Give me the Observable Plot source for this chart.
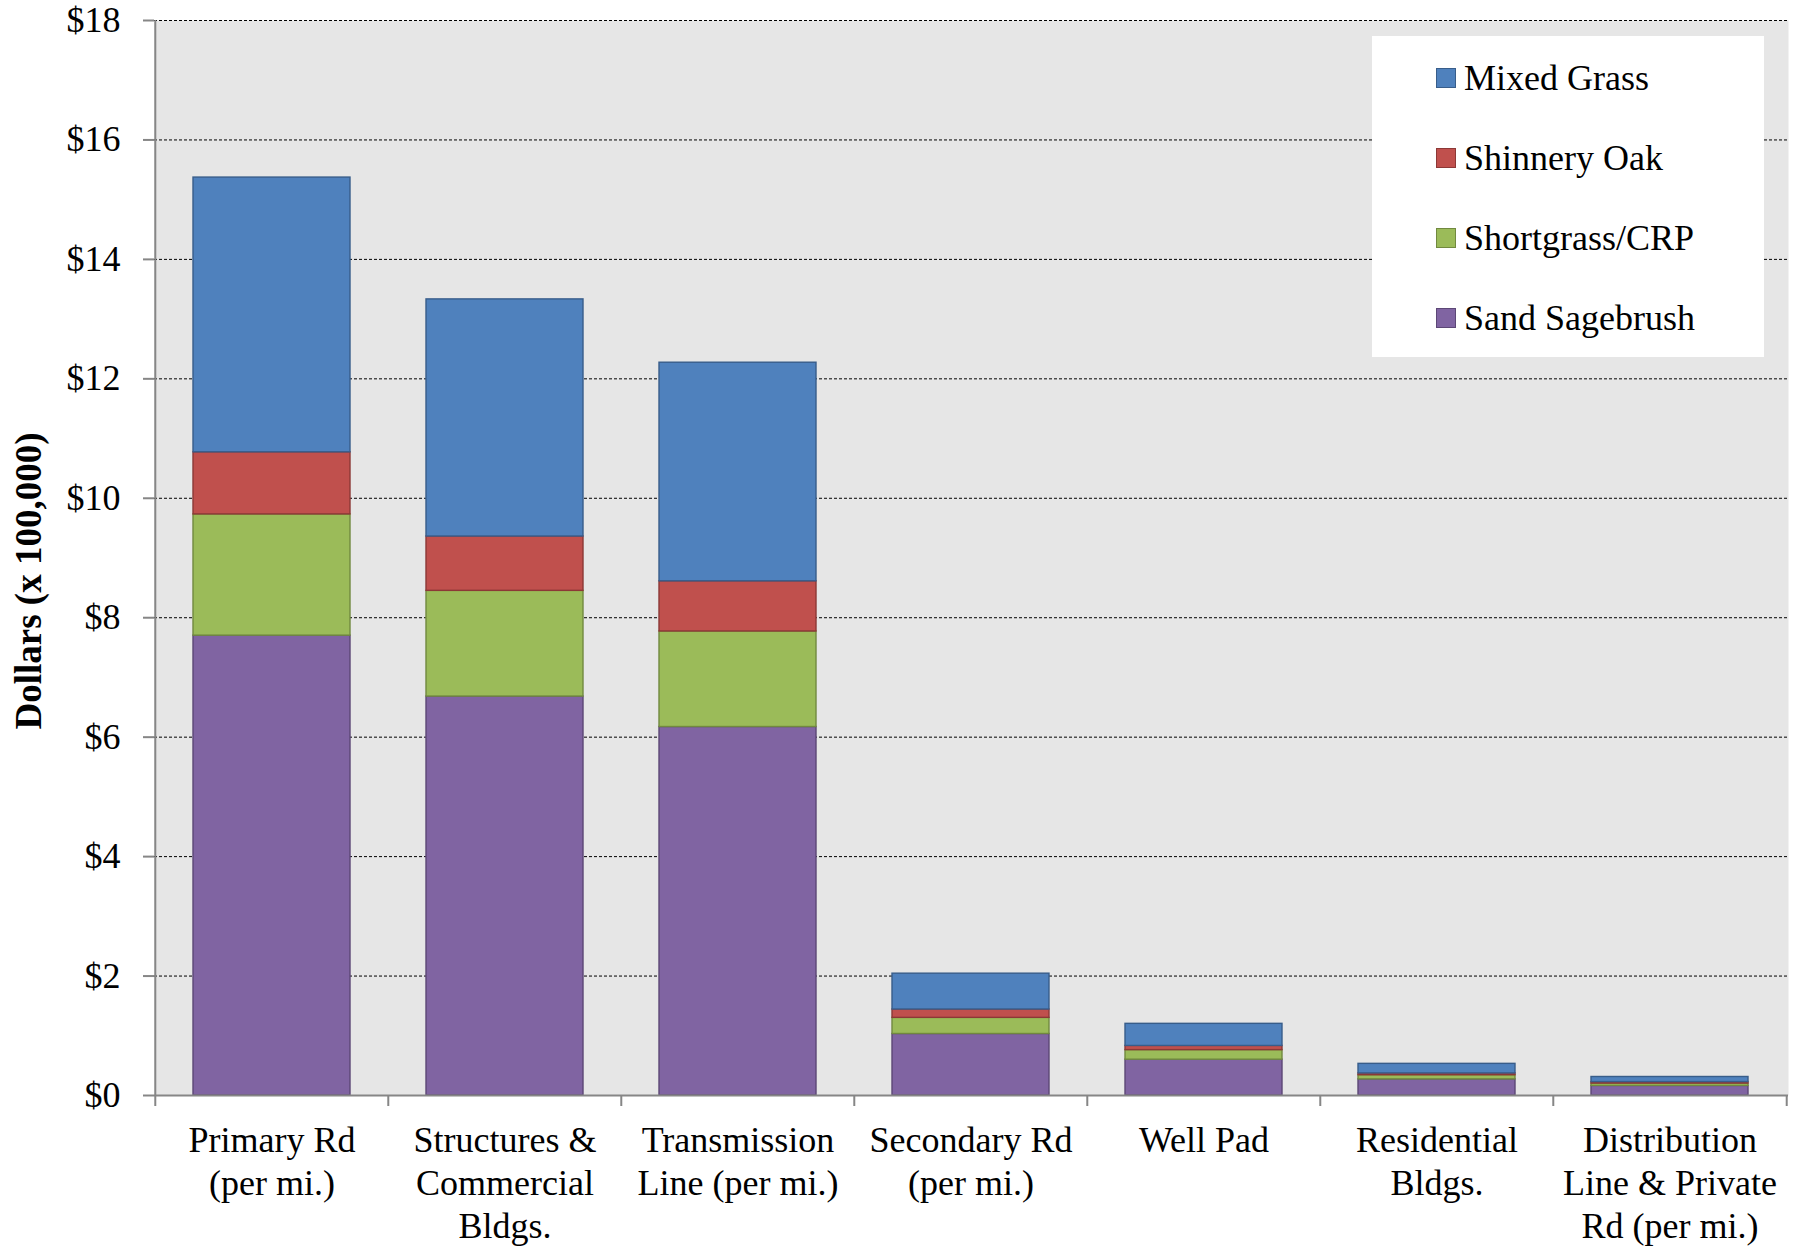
<!DOCTYPE html>
<html>
<head>
<meta charset="utf-8">
<script src="https://cdn.jsdelivr.net/npm/d3@7"></script>
<script src="https://cdn.jsdelivr.net/npm/@observablehq/plot@0.6"></script>
<style>
  html, body { margin: 0; padding: 0; background: #fff; }
  #chart { position: relative; width: 1802px; height: 1246px; font-family: "Liberation Serif", "Times New Roman", serif; }
  #chart svg { position: absolute; left: 0; top: 0; }
  .legend { position: absolute; left: 1372px; top: 36px; width: 392px; height: 321px; background: #fff; }
  .legend .item { position: absolute; left: 64px; height: 40px; display: flex; align-items: center; font-size: 36px; color: #000; white-space: nowrap; }
  .legend .swatch { width: 18px; height: 18px; border: 1.5px solid; margin-right: 8px; box-sizing: content-box; }
</style>
</head>
<body>
<div id="chart"></div>
<script>
// Cost categories along the x axis and their wrapped tick labels
const categories = [
  "Primary Rd", "Structures & Commercial Bldgs.", "Transmission Line", "Secondary Rd",
  "Well Pad", "Residential Bldgs.", "Distribution Line & Private Rd"
];
const tickLabels = [
  "Primary Rd\n(per mi.)",
  "Structures &\nCommercial\nBldgs.",
  "Transmission\nLine (per mi.)",
  "Secondary Rd\n(per mi.)",
  "Well Pad",
  "Residential\nBldgs.",
  "Distribution\nLine & Private\nRd (per mi.)"
];

// Series values, dollars (x 100,000), one entry per category
const sandSagebrush = [7.70, 6.68, 6.17, 1.03, 0.60, 0.27, 0.16];
const shortgrassCRP = [2.03, 1.77, 1.60, 0.27, 0.16, 0.07, 0.04];
const shinneryOak   = [1.04, 0.91, 0.84, 0.14, 0.07, 0.03, 0.025];
const mixedGrass    = [4.60, 3.97, 3.66, 0.60, 0.37, 0.16, 0.085];

// Series in stacking order (bottom to top)
const seriesNames  = ["Sand Sagebrush", "Shortgrass/CRP", "Shinnery Oak", "Mixed Grass"];
const seriesValues = [sandSagebrush, shortgrassCRP, shinneryOak, mixedGrass];
const seriesFill   = ["#8064A2", "#9BBB59", "#C0504D", "#4F81BD"];
const seriesStroke = ["#5C4776", "#71893F", "#8C3836", "#385D8A"];

// Y axis ticks and labels
const yTicks = [0, 2, 4, 6, 8, 10, 12, 14, 16, 18];
const yTitle = "Dollars (x 100,000)";

// Long-format table for the stacked bars
const rows = [];
seriesNames.forEach((s, si) => {
  categories.forEach((c, ci) => rows.push({category: c, series: s, value: seriesValues[si][ci], si}));
});
// keep bottom-to-top order inside each category
rows.sort((a, b) => categories.indexOf(a.category) - categories.indexOf(b.category) || a.si - b.si);

const W = 1802, H = 1246;
const mL = 154, mR = 14, mT = 20, mB = 151;
const step = (W - mL - mR) / categories.length; // band step (outer padding = inner / 2)
const axisGray = "#868686";
const font = 36;

const plot = Plot.plot({
  width: W,
  height: H,
  marginLeft: mL,
  marginRight: mR,
  marginTop: mT,
  marginBottom: mB,
  style: {fontFamily: '"Liberation Serif", "Times New Roman", serif', fontSize: font + "px", background: "transparent", color: "#000"},
  x: {domain: categories, paddingInner: 0.325, paddingOuter: 0.1625, axis: null},
  y: {domain: [0, 18], axis: null},
  color: {type: "identity"},
  marks: [
    Plot.frame({fill: "#e6e6e6", stroke: "none"}),
    // dashed gridlines
    Plot.ruleY(yTicks.filter(d => d > 0), {stroke: "#000", strokeWidth: 1, strokeDasharray: "3,2"}),
    // stacked bars
    Plot.barY(rows, {
      x: "category",
      y: "value",
      fill: d => seriesFill[d.si],
      stroke: d => seriesStroke[d.si],
      strokeWidth: 1.4
    }),
    // axis lines
    Plot.ruleY([0], {stroke: axisGray, strokeWidth: 2}),
    Plot.ruleX([categories[0]], {y1: 0, y2: 18, dx: -step / 2, stroke: axisGray, strokeWidth: 2}),
    // y ticks and labels
    Plot.axisY({ticks: yTicks, tickSize: 11, tickPadding: 23, tickFormat: d => `$${d}`, label: null,
      stroke: axisGray, strokeWidth: 2, fill: "#000", fontSize: font}),
    // x ticks at category boundaries
    Plot.axisX({tickSize: 11, tickFormat: () => "", label: null, dx: -step / 2, stroke: axisGray, strokeWidth: 2}),
    Plot.axisX({ticks: [categories[categories.length - 1]], tickSize: 11, tickFormat: () => "", label: null,
      dx: step / 2, stroke: axisGray, strokeWidth: 2}),
    // x category labels
    Plot.text(categories, {
      x: d => d,
      text: (d, i) => tickLabels[i],
      frameAnchor: "bottom",
      lineAnchor: "top",
      textAnchor: "middle",
      dy: 26,
      lineHeight: 1.19,
      fontSize: font,
      fill: "#000"
    }),
    // y axis title
    Plot.text([yTitle], {
      text: d => d,
      frameAnchor: "left",
      textAnchor: "middle",
      lineAnchor: "middle",
      rotate: -90,
      dx: -125,
      dy: 23,
      fontWeight: "bold",
      fontSize: 37,
      fill: "#000"
    })
  ]
});

const chart = document.getElementById("chart");
chart.appendChild(plot);

// Legend box, top to bottom
const legend = document.createElement("div");
legend.className = "legend";
const legendOrder = [3, 2, 1, 0];
legendOrder.forEach((si, row) => {
  const item = document.createElement("div");
  item.className = "item";
  item.style.top = (22 + row * 80) + "px";
  const sw = document.createElement("span");
  sw.className = "swatch";
  sw.style.background = seriesFill[si];
  sw.style.borderColor = seriesStroke[si];
  const label = document.createElement("span");
  label.textContent = seriesNames[si];
  item.appendChild(sw);
  item.appendChild(label);
  legend.appendChild(item);
});
chart.appendChild(legend);
</script>
</body>
</html>
